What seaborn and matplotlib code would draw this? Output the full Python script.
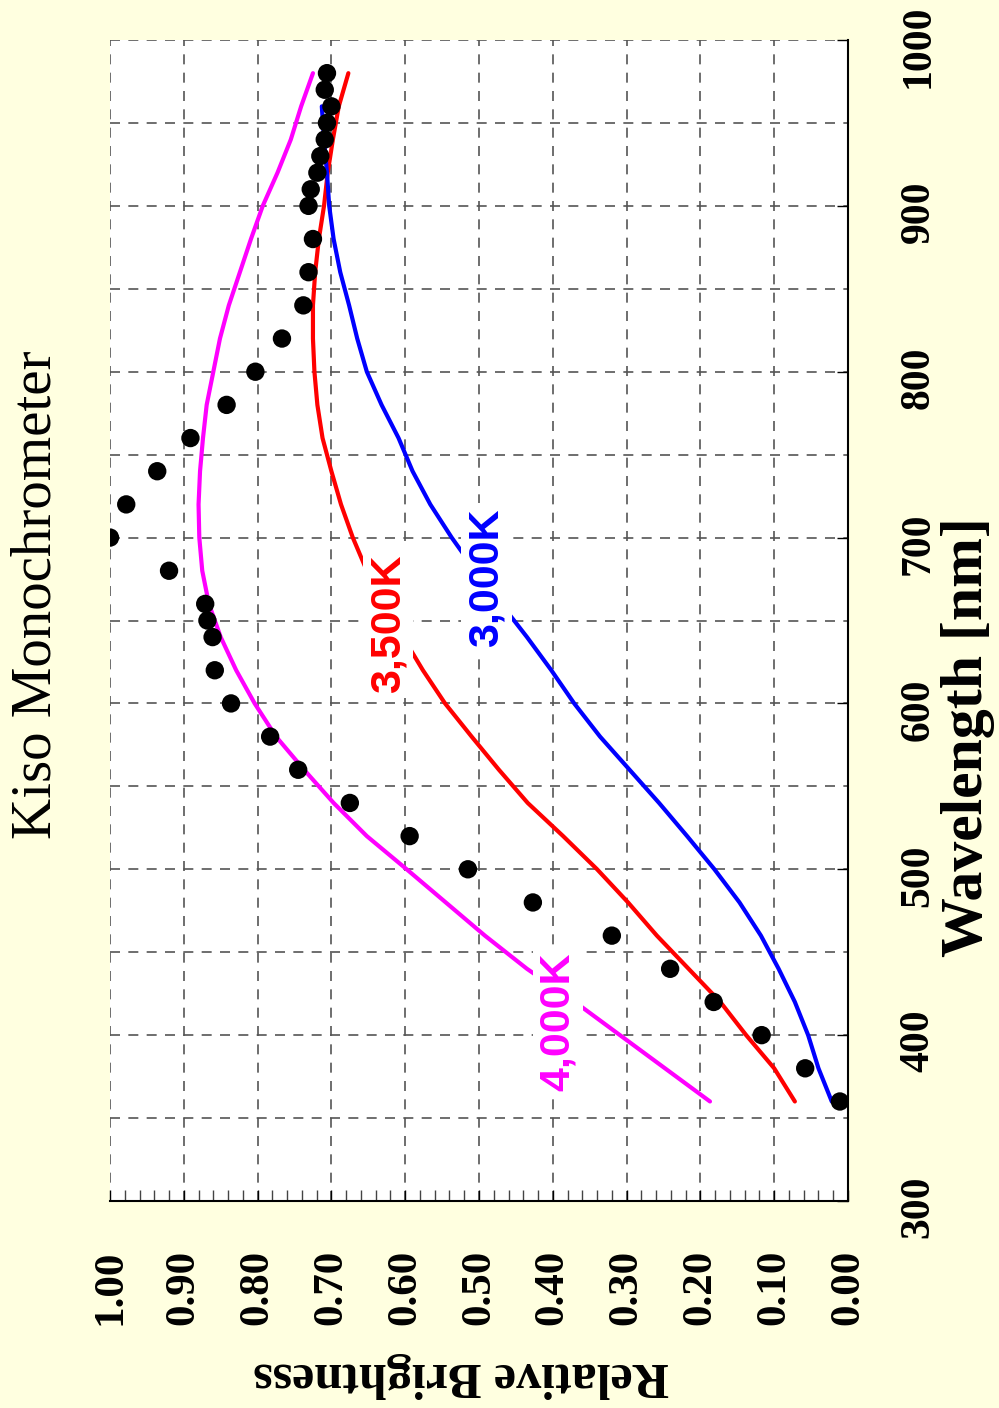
import matplotlib
matplotlib.use("Agg")
import matplotlib.pyplot as plt
import matplotlib.transforms as mtransforms
import seaborn as sns
import numpy as np
import pandas as pd

# ---------------- data ----------------
curve_nm = [360, 380, 400, 420, 440, 460, 480, 500, 520, 540, 560, 580, 600, 620, 640, 660,
            680, 700, 720, 740, 760, 780, 800, 820, 840, 860, 880, 900, 920, 940, 960, 980]
k4000 = [0.187, 0.248, 0.309, 0.370, 0.435, 0.492, 0.545, 0.598, 0.652, 0.697, 0.737, 0.775,
         0.804, 0.829, 0.850, 0.866, 0.875, 0.879, 0.880, 0.878, 0.874, 0.869, 0.860, 0.851,
         0.839, 0.824, 0.809, 0.793, 0.773, 0.755, 0.741, 0.725]
k3500 = [0.072, 0.100, 0.138, 0.173, 0.216, 0.259, 0.298, 0.340, 0.386, 0.434, 0.473, 0.510,
         0.546, 0.576, 0.603, 0.628, 0.652, 0.671, 0.687, 0.700, 0.712, 0.719, 0.723, 0.725,
         0.725, 0.722, 0.717, 0.710, 0.705, 0.698, 0.690, 0.677]
k3000_nm = [360, 380, 400, 420, 440, 460, 480, 500, 520, 540, 560, 580, 600, 620, 640, 660,
            680, 700, 720, 740, 760, 780, 800, 820, 840, 860, 880, 900, 920, 940, 960]
k3000 = [0.022, 0.040, 0.054, 0.072, 0.094, 0.118, 0.147, 0.181, 0.218, 0.256, 0.296, 0.336,
         0.371, 0.402, 0.435, 0.470, 0.505, 0.537, 0.566, 0.590, 0.609, 0.632, 0.652, 0.665,
         0.676, 0.688, 0.697, 0.703, 0.706, 0.710, 0.713]
dots_nm = [360, 380, 400, 420, 440, 460, 480, 500, 520, 540, 560, 580, 600, 620, 640, 650,
           660, 680, 700, 720, 740, 760, 780, 800, 820, 840, 860, 880, 900, 910, 920, 930,
           940, 950, 960, 970, 980]
dots_val = [0.011, 0.058, 0.117, 0.182, 0.241, 0.320, 0.427, 0.515, 0.594, 0.675, 0.745, 0.783,
            0.836, 0.858, 0.861, 0.868, 0.871, 0.920, 1.000, 0.978, 0.936, 0.891, 0.842, 0.803,
            0.767, 0.738, 0.731, 0.725, 0.731, 0.728, 0.719, 0.715, 0.709, 0.706, 0.700, 0.709,
            0.706]
x_ticks = [0.0, 0.1, 0.2, 0.3, 0.4, 0.5, 0.6, 0.7, 0.8, 0.9, 1.0]
y_ticks = [300, 400, 500, 600, 700, 800, 900, 1000]
title = "Kiso Monochrometer"
xlabel = "Relative Brightness"
ylabel = "Wavelength [nm]"

# ---------------- style ----------------
sns.set_theme(style="white")
bg = "#FFFFE0"
serif = ["Liberation Serif", "DejaVu Serif"]
sans = ["Liberation Sans", "DejaVu Sans"]
plt.rcParams["font.family"] = serif
plt.rcParams["text.color"] = "black"
plt.rcParams["xtick.color"] = "black"
plt.rcParams["ytick.color"] = "black"
plt.rcParams["axes.labelcolor"] = "black"

fig = plt.figure(figsize=(9.99, 14.08), dpi=100, facecolor=bg)
ax = fig.add_axes([110 / 999, 1 - 1201 / 1408, 738 / 999, 1161 / 1408])
ax.set_facecolor("white")

df4 = pd.DataFrame({"nm": curve_nm, "b": k4000})
df35 = pd.DataFrame({"nm": curve_nm, "b": k3500})
df3 = pd.DataFrame({"nm": k3000_nm, "b": k3000})
dfd = pd.DataFrame({"nm": dots_nm, "b": dots_val})

lw = 3.0
sns.lineplot(data=df4, x="b", y="nm", sort=False, estimator=None, color="#FF00FF",
             linewidth=lw, ax=ax, zorder=2)
sns.lineplot(data=df35, x="b", y="nm", sort=False, estimator=None, color="#FF0000",
             linewidth=lw, ax=ax, zorder=2)
sns.lineplot(data=df3, x="b", y="nm", sort=False, estimator=None, color="#0000FF",
             linewidth=lw, ax=ax, zorder=2)
sns.scatterplot(data=dfd, x="b", y="nm", color="black", s=175, edgecolor="none",
                ax=ax, zorder=3)

ax.set_xlim(1.0, 0.0)
ax.set_ylim(300, 1000)

# grid
ax.set_xticks(x_ticks)
ax.set_xticklabels([f"{v:.2f}" for v in x_ticks])
ax.set_xticks(np.arange(0, 1.0001, 0.02), minor=True)
ax.set_yticks(y_ticks)
ax.set_yticklabels([str(v) for v in y_ticks])
ax.set_yticks(np.arange(350, 1000, 100), minor=True)
gridkw = dict(color="#555555", linestyle=(0, (6, 5)), linewidth=1.2, zorder=0)
ax.grid(which="major", axis="both", **gridkw)
ax.grid(which="minor", axis="y", **gridkw)
ax.set_axisbelow(True)

for s in ["top", "left"]:
    ax.spines[s].set_visible(False)
for s in ["bottom", "right"]:
    ax.spines[s].set_visible(True)
    ax.spines[s].set_color("black")
    ax.spines[s].set_linewidth(1.5)

ax.tick_params(axis="x", which="major", direction="in", length=8, width=1, color="black",
               bottom=True, top=False, pad=35, labelsize=31, labelrotation=90,
               labelcolor="black")
ax.tick_params(axis="x", which="minor", direction="in", length=8, width=1, color="#444444",
               bottom=True, top=False)
ax.yaxis.tick_right()
ax.tick_params(axis="y", which="major", direction="in", length=8, width=1, color="black",
               right=True, left=False, labelright=True, labelleft=False, pad=37,
               labelsize=30, labelrotation=90, labelcolor="black")
ax.tick_params(axis="y", which="minor", length=0)
for t in ax.get_xticklabels():
    t.set_fontweight("bold")
    t.set_family(serif)
shift = mtransforms.ScaledTranslation(0, -6 / 100, fig.dpi_scale_trans)
for t in ax.get_yticklabels():
    t.set_fontweight("bold")
    t.set_family(serif)
    t.set_verticalalignment("center")
    t.set_transform(t.get_transform() + shift)
ax.set_xlabel("")
ax.set_ylabel("")

# curve labels
boxkw = dict(facecolor="white", edgecolor="none", boxstyle="square,pad=0.12")
ax.text(0.623, 648, "3,500K", rotation=90, color="#FF0000", fontsize=31, family=sans,
        fontweight="bold", ha="center", va="center", bbox=boxkw, zorder=5)
ax.text(0.490, 676, "3,000K", rotation=90, color="#0000FF", fontsize=31, family=sans,
        fontweight="bold", ha="center", va="center", bbox=boxkw, zorder=5)
ax.text(0.393, 408, "4,000K", rotation=90, color="#FF00FF", fontsize=31, family=sans,
        fontweight="bold", ha="center", va="center", bbox=boxkw, zorder=5)

# titles
fig.text(37 / 999, 1 - 595 / 1408, title, rotation=90, fontsize=41, family=serif,
         ha="center", va="center", color="black")
fig.text(968 / 999, 1 - 737 / 1408, ylabel, rotation=90, fontsize=43, family=serif,
         fontweight="bold", ha="center", va="center", color="black")
fig.text(461 / 999, 1 - 1375 / 1408, xlabel, rotation=180, fontsize=36, family=serif,
         fontweight="bold", ha="center", va="center", color="black")

fig.savefig("out.png", dpi=100, facecolor=bg)
